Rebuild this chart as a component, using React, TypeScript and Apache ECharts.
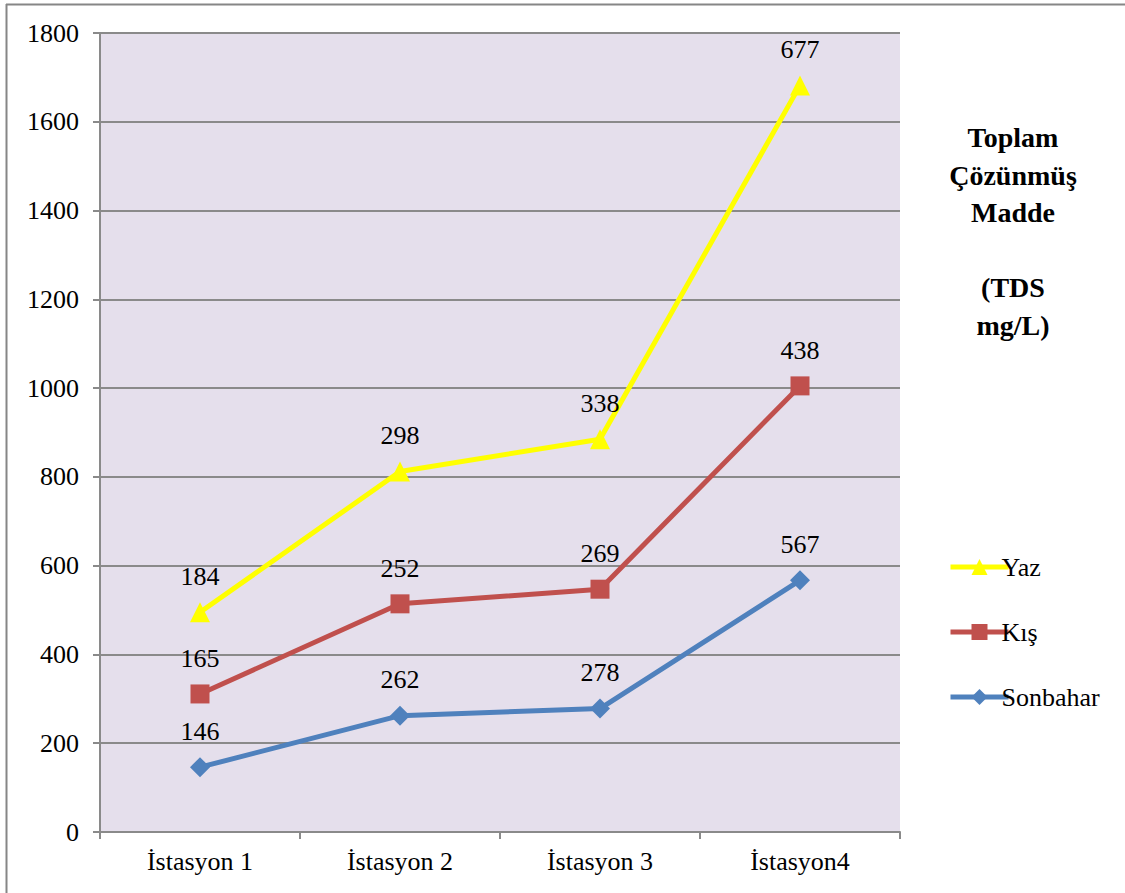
import React, { useEffect, useRef } from "react";
import * as echarts from "echarts";

// Stations along the x axis
const stations = ["İstasyon 1", "İstasyon 2", "İstasyon 3", "İstasyon4"];

// TDS (mg/L) per season — stacked from bottom (Sonbahar) to top (Yaz)
const sonbahar = [146, 262, 278, 567];
const kis = [165, 252, 269, 438];
const yaz = [184, 298, 338, 677];

const yMin = 0;
const yMax = 1800;
const yStep = 200;

const FONT = "Liberation Serif";

export default function App() {
  const ref = useRef<HTMLDivElement>(null);

  useEffect(() => {
    if (!ref.current) return;
    const chart = echarts.init(ref.current, undefined, { renderer: "svg" });

    const labelCfg = {
      show: true,
      position: "top" as const,
      distance: 13,
      color: "#000",
      fontFamily: FONT,
      fontSize: 26,
      formatter: (p: any) => String(p.value),
    };

    const mkSeries = (
      name: string,
      data: number[],
      color: string,
      symbol: string,
      symbolSize: number
    ) => ({
      name,
      type: "line",
      stack: "tds",
      data,
      symbol,
      symbolSize,
      showAllSymbol: true,
      lineStyle: { color, width: 5 },
      itemStyle: { color },
      label: labelCfg,
      z: 3,
    });

    chart.setOption({
      animation: false,
      backgroundColor: "#ffffff",
      textStyle: { fontFamily: FONT },
      grid: {
        left: 100,
        top: 33,
        width: 800,
        height: 799,
        show: true,
        backgroundColor: "#E5DFEC",
        borderWidth: 0,
      },
      xAxis: {
        type: "category",
        data: stations,
        boundaryGap: true,
        axisLine: { show: true, lineStyle: { color: "#8a8a8a", width: 2 } },
        axisTick: {
          show: true,
          inside: false,
          length: 7,
          alignWithLabel: false,
          lineStyle: { color: "#8a8a8a", width: 2 },
        },
        axisLabel: {
          color: "#000",
          fontFamily: FONT,
          fontSize: 26,
          margin: 16,
        },
        splitLine: { show: false },
      },
      yAxis: {
        type: "value",
        min: yMin,
        max: yMax,
        interval: yStep,
        axisLine: { show: true, lineStyle: { color: "#8a8a8a", width: 2 } },
        axisTick: {
          show: true,
          inside: false,
          length: 7,
          lineStyle: { color: "#8a8a8a", width: 2 },
        },
        axisLabel: {
          color: "#000",
          fontFamily: FONT,
          fontSize: 26,
          margin: 21,
          formatter: (v: number) => String(v),
        },
        splitLine: { show: true, lineStyle: { color: "#8a8a8a", width: 2 } },
      },
      legend: {
        orient: "vertical",
        left: 943,
        top: 549,
        itemWidth: 58,
        itemHeight: 20,
        itemGap: 39,
        data: ["Yaz", "Kış", "Sonbahar"],
        lineStyle: { width: 5 },
        textStyle: {
          color: "#000",
          fontFamily: FONT,
          fontSize: 26,
          padding: [0, 0, 0, -12],
        },
      },
      graphic: [
        {
          type: "text",
          x: 1013,
          y: 119,
          style: {
            text: "Toplam\nÇözünmüş\nMadde\n\n(TDS\nmg/L)",
            fill: "#000",
            fontFamily: FONT,
            fontWeight: "bold",
            fontSize: 28,
            lineHeight: 37.5,
            align: "center",
            verticalAlign: "top",
          },
        },
        {
          type: "line",
          shape: { x1: 6, y1: 4.5, x2: 1125, y2: 4.5 },
          style: { stroke: "#868686", lineWidth: 2 },
        },
        {
          type: "line",
          shape: { x1: 6.5, y1: 4, x2: 6.5, y2: 893 },
          style: { stroke: "#868686", lineWidth: 2 },
        },
      ],
      series: [
        mkSeries("Sonbahar", sonbahar, "#4F81BD", "diamond", 20),
        mkSeries("Kış", kis, "#C0504D", "rect", 19),
        mkSeries("Yaz", yaz, "#FFFF00", "triangle", 20),
      ],
    });

    return () => chart.dispose();
  }, []);

  return (
    <div
      ref={ref}
      style={{ position: "absolute", left: 0, top: 0, width: 1125, height: 893 }}
    />
  );
}
